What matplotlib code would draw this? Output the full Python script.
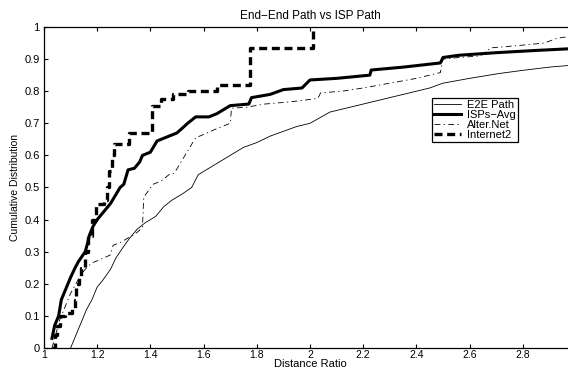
import matplotlib
matplotlib.use("Agg")
import matplotlib.pyplot as plt

# Internet2 (step CDF)
i2_x = [1.03, 1.04, 1.05, 1.06, 1.08, 1.105, 1.115, 1.12, 1.13, 1.14, 1.155, 1.165, 1.18, 1.195,
        1.225, 1.235, 1.245, 1.255, 1.265, 1.32, 1.405, 1.44, 1.485, 1.54, 1.65, 1.775, 2.01]
i2_y = [0.0, 0.04, 0.07, 0.10, 0.11, 0.12, 0.15, 0.20, 0.22, 0.25, 0.30, 0.35, 0.40, 0.45,
        0.46, 0.50, 0.55, 0.60, 0.635, 0.67, 0.755, 0.775, 0.79, 0.80, 0.82, 0.935, 1.0]

isp_x = [1.03, 1.035, 1.04, 1.05, 1.055, 1.065, 1.075, 1.09, 1.10, 1.117, 1.13, 1.155, 1.165, 1.17,
         1.185, 1.20, 1.21, 1.23, 1.25, 1.286, 1.30, 1.316, 1.34, 1.36, 1.37, 1.40, 1.425, 1.47,
         1.50, 1.54, 1.57, 1.62, 1.65, 1.70, 1.77, 1.78, 1.85, 1.90, 1.97, 2.0, 2.10, 2.225,
         2.23, 2.35, 2.49, 2.50, 2.56, 2.70, 2.85, 2.97]
isp_y = [0.03, 0.05, 0.07, 0.09, 0.10, 0.15, 0.17, 0.20, 0.22, 0.25, 0.27, 0.30, 0.33, 0.35,
         0.38, 0.40, 0.41, 0.43, 0.45, 0.50, 0.51, 0.555, 0.56, 0.58, 0.60, 0.61, 0.645, 0.66,
         0.67, 0.70, 0.72, 0.72, 0.73, 0.755, 0.76, 0.78, 0.79, 0.805, 0.81, 0.835, 0.84, 0.85,
         0.866, 0.875, 0.888, 0.905, 0.912, 0.92, 0.927, 0.932]

alt_x = [1.03, 1.04, 1.05, 1.06, 1.08, 1.10, 1.12, 1.14, 1.16, 1.18, 1.21, 1.25, 1.26, 1.29,
         1.32, 1.35, 1.37, 1.375, 1.41, 1.44, 1.47, 1.49, 1.53, 1.57, 1.60, 1.64, 1.70, 1.705,
         1.76, 1.83, 1.90, 1.96, 2.03, 2.04, 2.12, 2.20, 2.30, 2.40, 2.49, 2.50, 2.56, 2.64,
         2.68, 2.75, 2.82, 2.88, 2.93, 2.97]
alt_y = [0.0, 0.03, 0.06, 0.09, 0.13, 0.17, 0.20, 0.23, 0.25, 0.265, 0.275, 0.29, 0.32, 0.33,
         0.345, 0.36, 0.375, 0.47, 0.51, 0.52, 0.54, 0.545, 0.60, 0.655, 0.665, 0.68, 0.70, 0.747,
         0.75, 0.76, 0.765, 0.77, 0.778, 0.795, 0.80, 0.81, 0.825, 0.84, 0.858, 0.90, 0.905, 0.91,
         0.935, 0.94, 0.945, 0.95, 0.965, 0.97]

e2e_x = [1.10, 1.12, 1.14, 1.16, 1.18, 1.20, 1.22, 1.25, 1.27, 1.29, 1.32, 1.35, 1.38, 1.42,
         1.45, 1.48, 1.52, 1.555, 1.58, 1.62, 1.66, 1.70, 1.75, 1.80, 1.85, 1.90, 1.95, 2.0,
         2.075, 2.15, 2.225, 2.30, 2.375, 2.45, 2.5, 2.6, 2.71, 2.8, 2.9, 2.97]
e2e_y = [0.0, 0.04, 0.08, 0.12, 0.15, 0.19, 0.21, 0.245, 0.28, 0.305, 0.34, 0.37, 0.39, 0.41,
         0.44, 0.46, 0.48, 0.50, 0.54, 0.56, 0.58, 0.60, 0.625, 0.64, 0.66, 0.675, 0.69, 0.70,
         0.735, 0.75, 0.765, 0.78, 0.795, 0.81, 0.825, 0.84, 0.855, 0.865, 0.875, 0.88]

x_ticks = [1, 1.2, 1.4, 1.6, 1.8, 2, 2.2, 2.4, 2.6, 2.8]
x_labels = ["1", "1.2", "1.4", "1.6", "1.8", "2", "2.2", "2.4", "2.6", "2.8"]
y_ticks = [0, 0.1, 0.2, 0.3, 0.4, 0.5, 0.6, 0.7, 0.8, 0.9, 1]
y_labels = ["0", "0.1", "0.2", "0.3", "0.4", "0.5", "0.6", "0.7", "0.8", "0.9", "1"]

plt.rcParams['font.family'] = ['Liberation Sans', 'DejaVu Sans']
plt.rcParams['font.size'] = 8

W, H = 568, 370
fig = plt.figure(figsize=(W / 100, H / 100), dpi=100)
# axes runs to x=3, slightly past the right edge of the picture
ax = fig.add_axes([44 / W, (H - 348) / H, 532 / W, 321 / H])

ax.plot(e2e_x, e2e_y, color='black', lw=0.6, label='E2E Path')
ax.plot(isp_x, isp_y, color='black', lw=2.2, label='ISPs\u2212Avg')
ax.plot(alt_x, alt_y, color='black', lw=0.6, linestyle=(0, (7, 4, 1.5, 4)), label='Alter.Net')
ax.plot(i2_x, i2_y, color='black', lw=2.4, linestyle=(0, (2.4, 1.4)),
        drawstyle='steps-post', label='Internet2')

ax.set_xlim(1, 3)
ax.set_ylim(0, 1)
ax.set_xticks(x_ticks)
ax.set_xticklabels(x_labels)
ax.set_yticks(y_ticks)
ax.set_yticklabels(y_labels)
ax.tick_params(direction='in', length=3, width=0.8, top=True, right=True, labelsize=7.5)
ax.tick_params(axis='x', pad=1.5)
ax.tick_params(axis='y', pad=3, labelsize=8)
for s in ax.spines.values():
    s.set_linewidth(0.9)

ax.set_title('End\u2212End Path vs ISP Path', fontsize=8.5, pad=6)
ax.set_xlabel('Distance Ratio', fontsize=8, labelpad=-0.5)
ax.set_ylabel('Cumulative Distribution', fontsize=7.5, labelpad=3)

leg = ax.legend(loc='upper left', bbox_to_anchor=(0.729, 0.779), fontsize=8,
                fancybox=False, framealpha=1, edgecolor='black', borderpad=0.2,
                labelspacing=0.0, handlelength=2.4, handletextpad=0.6, borderaxespad=0)
leg.get_frame().set_linewidth(0.9)

fig.savefig('out.png', dpi=100)
